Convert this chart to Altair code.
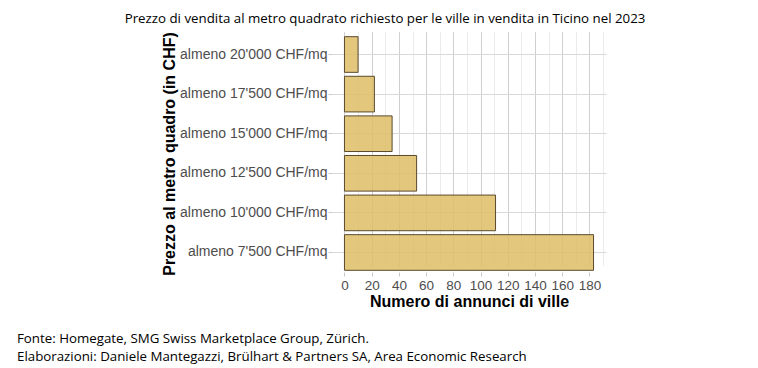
import altair as alt
import pandas as pd

categories = [
    "almeno 20'000 CHF/mq",
    "almeno 17'500 CHF/mq",
    "almeno 15'000 CHF/mq",
    "almeno 12'500 CHF/mq",
    "almeno 10'000 CHF/mq",
    "almeno 7'500 CHF/mq",
]
counts = [10, 22, 35, 53, 111, 183]
x_ticks = [0, 10, 20, 30, 40, 50, 60, 70, 80, 90, 100, 110, 120, 130, 140, 150, 160, 170, 180, 190]

title_text = "Prezzo di vendita al metro quadrato richiesto per le ville in vendita in Ticino nel 2023"
footer_lines = [
    "Fonte: Homegate, SMG Swiss Marketplace Group, Zürich.",
    "Elaborazioni: Daniele Mantegazzi, Brülhart & Partners SA, Area Economic Research",
]

df = pd.DataFrame({"cat": categories, "n": counts})

major = "datum.value % 20 === 0"

bars = alt.Chart(df).mark_bar(
    fill="#debd66", fillOpacity=0.85, stroke="#5a4a2c", strokeWidth=1
).encode(
    x=alt.X(
        "n:Q",
        scale=alt.Scale(domain=[-9.15, 192.15], nice=False, zero=False),
        axis=alt.Axis(
            values=x_ticks,
            title="Numero di annunci di ville",
            labelExpr="datum.value % 20 === 0 ? datum.label : ''",
            gridColor=alt.condition(major, alt.value("#cfcfcf"), alt.value("#ebebeb")),
            tickOpacity=alt.condition(major, alt.value(1), alt.value(0)),
            tickColor="#c8c8c8",
            tickSize=4,
            domain=False,
            labelFont="Liberation Sans",
            labelFontSize=13.5,
            labelColor="#4d4d4d",
            labelPadding=2,
            labelFlush=False,
            labelOverlap=False,
            titleFont="Liberation Sans",
            titleFontSize=16,
            titleFontWeight="bold",
            titleColor="#000000",
            titlePadding=2,
        ),
    ),
    y=alt.Y(
        "cat:N",
        sort=categories,
        scale=alt.Scale(range=[6.7, 240.3], paddingInner=0.1, paddingOuter=0),
        axis=alt.Axis(
            title="Prezzo al metro quadro (in CHF)",
            grid=True,
            gridColor="#d9d9d9",
            bandPosition=0.5,
            tickColor="#c8c8c8",
            tickSize=4,
            domain=False,
            labelFont="Liberation Sans",
            labelFontSize=14,
            labelColor="#4d4d4d",
            labelPadding=1,
            titleFont="Liberation Sans",
            titleFontSize=16,
            titleFontWeight="bold",
            titleColor="#000000",
            titlePadding=2,
        ),
    ),
)

title_layer = alt.Chart(pd.DataFrame({"t": [title_text]})).mark_text(
    font="Open Sans", fontSize=13.3, color="#000000", align="center", baseline="top"
).encode(x=alt.value(53), y=alt.value(-18), text="t:N")

foot1 = alt.Chart(pd.DataFrame({"t": [footer_lines[0]]})).mark_text(
    font="Open Sans", fontSize=13.3, color="#000000", align="left", baseline="middle"
).encode(x=alt.value(-315), y=alt.value(309), text="t:N")
foot2 = alt.Chart(pd.DataFrame({"t": [footer_lines[1]]})).mark_text(
    font="Open Sans", fontSize=13.3, color="#000000", align="left", baseline="middle"
).encode(x=alt.value(-315), y=alt.value(327), text="t:N")

chart = alt.layer(bars, title_layer, foot1, foot2).properties(
    width=274,
    height=242,
    padding={"left": 324, "top": 22, "right": 144, "bottom": 96},
    autosize=alt.AutoSizeParams(type="none"),
    background="#ffffff",
).configure_view(stroke=None)

chart.save("out.html", embed_options={"renderer": "svg", "actions": False})
